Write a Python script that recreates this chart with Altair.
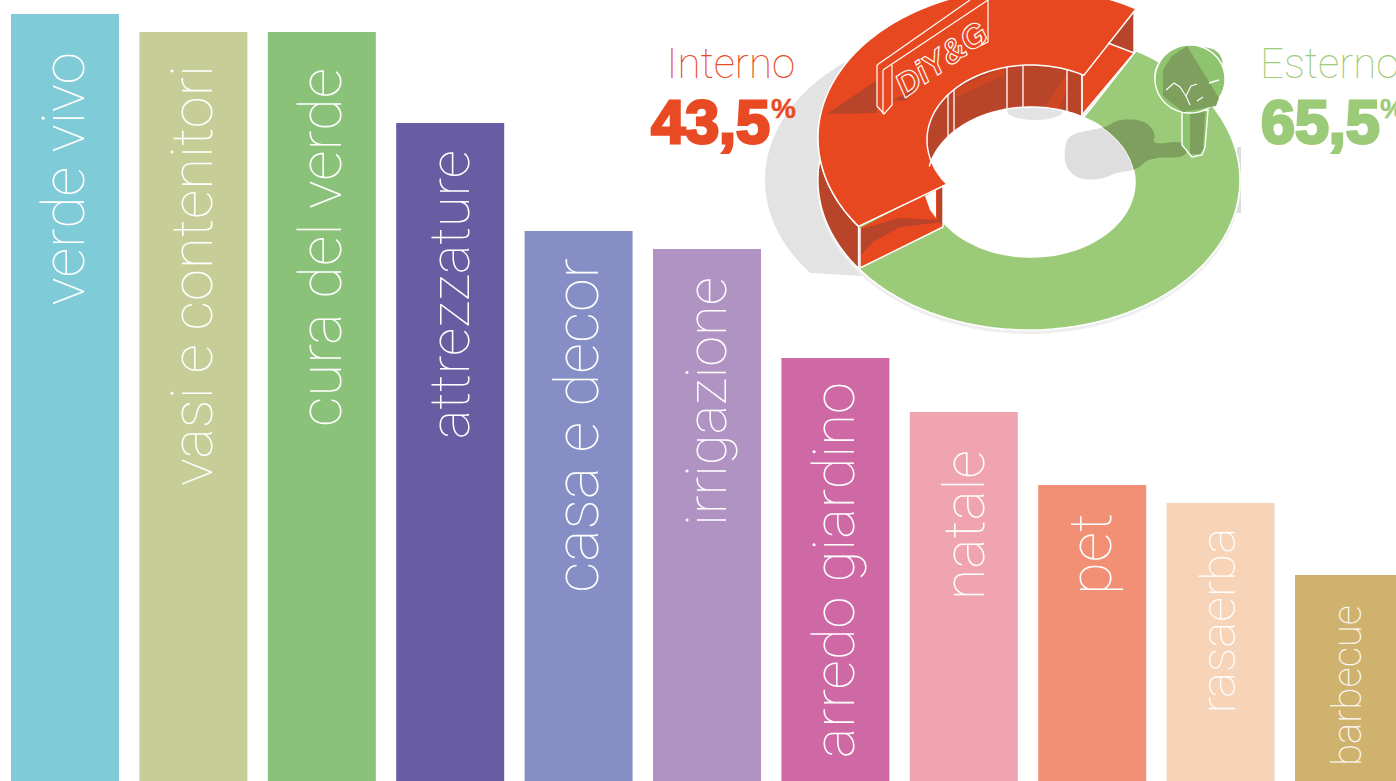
import numpy as np
import altair as alt

# Sales by product family
categories = ["verde vivo", "vasi e contenitori", "cura del verde", "attrezzature",
              "casa e decor", "irrigazione", "arredo giardino", "natale", "pet",
              "rasaerba", "barbecue"]
values = [767, 749, 749, 658, 550, 532, 423, 369, 296, 278, 206]
bar_colors = ["#80CBD8", "#C6CD97", "#8BC279", "#685CA3", "#858FC6", "#B092C3",
              "#CE69A6", "#F0A4B0", "#F29075", "#F7D3B8", "#CFB26E"]
label_gaps = [38, 33, 36, 27, 27, 28, 24, 38, 28, 25, 30]
label_sizes = [59, 58, 60, 56, 61, 56, 58, 57, 60, 49, 40]
label_shifts = [19, 19, 19, 19, 19, 19, 19, 20, 19, 14, 12]

# Indoor / outdoor split
share_names = ["Interno", "Esterno"]
share_values = [43.5, 65.5]
share_colors = ["#E84A24", "#9BCB78"]

W, H = 1396, 781
THIN = "Roboto"
WALL = "#B8442A"
SHADE = "#7F9F5E"

rows = [{"cat": c, "v": v, "anchor": v - g}
        for c, v, g in zip(categories, values, label_gaps)]

x_scale = alt.Scale(domain=categories, range=[11, 1403], paddingInner=0.1589, paddingOuter=0)
y_scale = alt.Scale(domain=[0, H], range=[H, 0], nice=False, zero=True)

bars = alt.Chart(alt.Data(values=rows)).mark_bar(clip=True).encode(
    x=alt.X("cat:N", scale=x_scale, axis=None, sort=categories),
    y=alt.Y("v:Q", scale=y_scale, axis=None),
    color=alt.Color("cat:N", scale=alt.Scale(domain=categories, range=bar_colors), legend=None),
)
layers = [bars]

# One rotated label per bar, reading upwards and ending just under the bar's top.
# With the text turned 270 degrees its local dy runs along the screen's x axis.
for row, size, shift in zip(rows, label_sizes, label_shifts):
    layers.append(alt.Chart(alt.Data(values=[row])).mark_text(
        angle=270, align="right", baseline="alphabetic", color="white", font=THIN,
        fontWeight=100, fontSize=size, dy=shift, clip=True,
    ).encode(
        x=alt.X("cat:N", scale=x_scale, axis=None, sort=categories),
        y=alt.Y("anchor:Q", scale=y_scale, axis=None),
        text="cat:N",
    ))

# Ring geometry, in screen space: an ellipse seen from above
CX, CY, RX, RY = 1029, 180, 211, 150
HX, HY, HRX, HRY = 1031, 182, 104, 75
LIFT = 42
START = -59.5                       # where the indoor sector meets the outdoor one
sweep_in = share_values[0] / 100 * 360
sweep_out = share_values[1] / 100 * 360
END_IN = START - sweep_in


def ell(cx, cy, rx, ry, a0, a1, n=90):
    t = np.radians(np.linspace(a0, a1, n))
    return [[float(cx + rx * np.cos(a)), float(cy + ry * np.sin(a))] for a in t]


def closed(p):
    p = [list(q) for q in p]
    return p + [p[0]]


def rounded(points, passes=3):
    # Corner cutting, so hand-placed outlines read as soft blobs
    pts = [list(map(float, p)) for p in points]
    for _ in range(passes):
        cut = []
        for a, b in zip(pts, pts[1:] + pts[:1]):
            cut.append([0.75 * a[0] + 0.25 * b[0], 0.75 * a[1] + 0.25 * b[1]])
            cut.append([0.25 * a[0] + 0.75 * b[0], 0.25 * a[1] + 0.75 * b[1]])
        pts = cut
    return pts


def shape(rings, fill=None, stroke=None, sw=1.4, opacity=1):
    kw = {"clip": True, "filled": fill is not None, "opacity": opacity}
    if fill is not None:
        kw["fill"] = fill
    kw["stroke"] = stroke if stroke is not None else "transparent"
    kw["strokeWidth"] = sw if stroke is not None else 0
    feat = {"type": "Feature", "properties": {},
            "geometry": {"type": "Polygon", "coordinates": [closed(r) for r in rings]}}
    return alt.Chart(alt.Data(values=[feat])).mark_geoshape(**kw).project(
        type="identity", scale=1, translate=[0, 0])


def path(points, stroke="white", sw=1.4):
    feat = {"type": "Feature", "properties": {},
            "geometry": {"type": "LineString", "coordinates": [list(p) for p in points]}}
    return alt.Chart(alt.Data(values=[feat])).mark_geoshape(
        clip=True, filled=False, stroke=stroke, strokeWidth=sw).project(
        type="identity", scale=1, translate=[0, 0])


def sector(cx, cy, rx, ry, hx, hy, hrx, hry, a0, a1):
    return ell(cx, cy, rx, ry, a0, a1) + ell(hx, hy, hrx, hry, a1, a0)


def outside_hole(points):
    out = []
    for x, y in points:
        dx, dy = (x - HX) / HRX, (y - HY) / HRY
        r = float(np.hypot(dx, dy))
        if r < 1:
            dx, dy = dx / r, dy / r
            x, y = HX + dx * HRX, HY + dy * HRY
        out.append([x, y])
    return out


tree_shadow = [(1064, 152), (1068, 135), (1090, 130), (1107, 127), (1118, 119), (1145, 120),
               (1156, 134), (1152, 145), (1186, 140), (1188, 158), (1150, 157), (1137, 170),
               (1118, 172), (1100, 180), (1078, 179), (1066, 168)]
soft_shadow = rounded(tree_shadow)

shadow_left = [p for p in ell(975, 180, 210, 150, 90, 290) if p[1] <= 277]
shadow_left = [[880, 277]] + shadow_left + [[880, 70]]

# Cast shadows on the white ground; the soft halo under the ring keeps its hole open
layers += [
    shape([shadow_left], fill="#E3E3E3"),
    shape([[[1237, 147], [1241, 147], [1241, 213], [1237, 213]]], fill="#DDDDDD"),
    shape([ell(CX, CY + 3, RX + 1, RY + 1, 0, 360), ell(HX, HY, HRX, HRY, 360, 0)], fill="#EFEFEF"),
    shape([ell(1035, 111, 28, 9, 0, 360)], fill="#E3E3E3"),
    shape([soft_shadow], fill="#DEDEDE"),
]

# Outdoor sector at ground level
layers += [
    shape([sector(CX, CY, RX, RY, HX, HY, HRX, HRY, START, START + sweep_out)],
          fill=share_colors[1], stroke="white", sw=1.5),
    shape([outside_hole(soft_shadow)], fill=SHADE),
]

# Tree on the outdoor sector
trunk = [[1182, 112], [1182, 145], [1192, 157], [1202, 155], [1205, 147], [1208, 110]]
layers += [
    shape([trunk], fill="#8FC46F", stroke="white", sw=1.4),
    shape([[[1190, 114], [1205, 112], [1203, 150], [1199, 154], [1190, 154]]], fill=SHADE),
    shape([ell(1205, 63, 18, 16, 0, 360)], fill="#8FC46F", stroke="white", sw=1.2),
    shape([ell(1169, 76, 14, 18, 0, 360)], fill="#8FC46F", stroke="white", sw=1.2),
    shape([ell(1190, 79, 35, 34, 0, 360)], fill="#8FC46F", stroke="white", sw=1.4),
    shape([[[1172, 56], [1187, 46], [1219, 98], [1216, 106], [1183, 112], [1163, 96], [1163, 70]]],
          fill=SHADE),
    path([[1166, 90], [1174, 83], [1180, 87], [1186, 96], [1191, 86], [1197, 84]], sw=1.1),
    path([[1186, 96], [1190, 105]], sw=1.1),
    path([[1197, 101], [1203, 97]], sw=1.1),
    path([[1209, 83], [1219, 80]], sw=1.6),
]

# Raised indoor sector: outer wall, inner wall, the two cut faces and the top
inner_back = ell(HX, HY - LIFT, HRX, HRY, -61, -178) + ell(HX, HY, HRX, HRY, -178, -61)
layers += [
    shape([ell(CX, CY, RX, RY, END_IN, END_IN + 44) + ell(CX, CY - LIFT, RX, RY, END_IN + 44, END_IN)],
          fill=WALL, stroke="white", sw=1.3),
    shape([inner_back], fill=WALL),
    shape([[[955, 89], [1005, 67], [1005, 75], [955, 98]]], fill="#CF4622"),
    shape([[[1045, 107], [1067, 72], [1067, 90], [1058, 110]]], fill="#CF4622"),
    shape([[[1082, 75], [1134, 11], [1134, 53], [1082, 115]]], fill="#E8481F"),
    shape([[[1108, 43], [1134, 11], [1134, 53]]], fill=WALL),
    shape([[[860, 228], [943, 185], [943, 227], [860, 268]]], fill="#E8481F"),
    shape([[[861, 229], [900, 218], [942, 220], [942, 222], [900, 227], [873, 242], [861, 255]]],
          fill=WALL),
    shape([[[925, 196], [936, 190], [936, 218], [930, 210]]], fill="white"),
    shape([[[937, 188], [943, 185], [943, 226], [937, 218]]], fill=WALL),
    shape([sector(CX, CY - LIFT, RX, RY, HX, HY - LIFT, HRX, HRY, START, END_IN)],
          fill="#E8481F", stroke="white", sw=1.5),
]
for x in [948, 954, 1007, 1023, 1067, 1082]:
    u = np.sqrt(1 - ((x - HX) / HRX) ** 2)
    layers.append(path([[x, HY - LIFT - HRY * u], [x, HY - HRY * u]], sw=1.3))
layers += [
    path(ell(HX, HY, HRX, HRY, -61, -168), sw=1.5),
    path([[860, 228], [860, 268], [943, 227], [943, 185]], sw=1.4),
    path([[1108, 43], [1134, 53], [1134, 11]], sw=1.4),
    path([[1082, 75], [1082, 115], [1134, 53]], sw=1.3),
    shape([[[827, 114], [877, 80], [877, 113]]], fill=WALL),
    shape([[[892, 100], [918, 88], [905, 101]]], fill=WALL),
]

# Sign standing on the indoor sector
layers += [
    path([[877, 65], [970, 0]], sw=1.2),
    path([[883, 70], [988, 0]], sw=1.2),
    path([[877, 65], [877, 106], [884, 114], [892, 105], [892, 77]], sw=1.2),
    path([[883, 70], [883, 114]], sw=1.2),
    path([[892, 77], [892, 65]], sw=1.2),
    path([[988, 0], [988, 42], [982, 45], [981, 36]], sw=1.2),
]
sign = alt.Chart(alt.Data(values=[{"t": "DiY&G"}])).mark_text(
    font="Liberation Sans", fontStyle="italic", fontWeight="bold", fontSize=33,
    angle=325, align="center", baseline="middle", fill="transparent",
    stroke="white", strokeWidth=1.1, clip=True,
).encode(x=alt.value(942), y=alt.value(60), text="t:N")
layers.append(sign)


def text_mark(txt, x, y, color, align="left", size=44, font=THIN, weight=100, stroke=0.0):
    kw = dict(font=font, fontWeight=weight, fontSize=size, align=align,
              baseline="alphabetic", color=color, clip=True)
    if stroke:
        kw.update(stroke=color, strokeWidth=stroke)
    return alt.Chart(alt.Data(values=[{"t": txt}])).mark_text(**kw).encode(
        x=alt.value(x), y=alt.value(y), text="t:N")


def pct(v):
    return f"{v:.1f}".replace(".", ",")


BOLD = "Liberation Sans"
layers += [
    text_mark(share_names[0], 795, 78, share_colors[0], align="right", size=42),
    text_mark(pct(share_values[0]), 770, 143, share_colors[0], align="right", size=61, font=BOLD,
              weight="bold", stroke=3),
    text_mark("%", 771, 118, share_colors[0], size=28, font=BOLD, weight="bold", stroke=0.4),
    text_mark(share_names[1], 1260, 78, share_colors[1], size=42),
    text_mark(pct(share_values[1]), 1261, 143, share_colors[1], size=61, font=BOLD,
              weight="bold", stroke=3),
    text_mark("%", 1380, 118, share_colors[1], size=28, font=BOLD, weight="bold", stroke=0.4),
]

chart = alt.layer(*layers).resolve_scale(color="independent").properties(
    width=W, height=H, padding=0, background="white",
    autosize=alt.AutoSizeParams(type="none"),
).configure_view(stroke=None)

chart.save("out.html", embed_options={"renderer": "svg", "actions": False})
